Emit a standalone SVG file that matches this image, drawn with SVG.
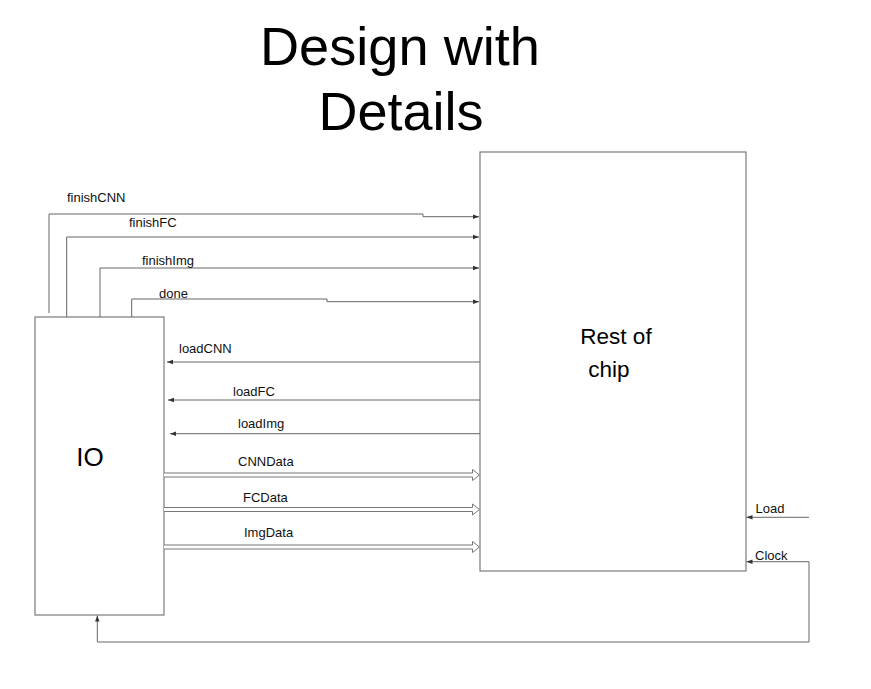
<svg xmlns="http://www.w3.org/2000/svg" width="871" height="689" viewBox="0 0 871 689">
<defs>
<marker id="arr" markerUnits="userSpaceOnUse" markerWidth="6" markerHeight="6" viewBox="0 0 6 6" refX="6" refY="3" orient="auto">
<path d="M0,0.8 L6,3 L0,5.2 Z" fill="#333"/>
</marker>
<style>
.box{fill:#fff;stroke:#7a7a7a;stroke-width:1.2}
.ln{fill:none;stroke:#666;stroke-width:1}
.ba{fill:#fff;stroke:#777;stroke-width:1}
.lbl{font-family:"Liberation Sans",Arial,sans-serif;font-size:13px;fill:#111}
.big{font-family:"Liberation Sans",Arial,sans-serif;fill:#000}
</style>
</defs>
<rect width="871" height="689" fill="#fff"/>
<g id="title">
<text class="big" x="400" y="65" font-size="54" text-anchor="middle" textLength="280" lengthAdjust="spacingAndGlyphs">Design with</text>
<text class="big" x="401" y="130" font-size="54" text-anchor="middle">Details</text>
</g>
<g id="io">
<rect class="box" x="35" y="317" width="129" height="298"/>
<text class="big" x="90" y="466" font-size="26" text-anchor="middle">IO</text>
</g>
<g id="rest">
<rect class="box" x="480" y="152" width="266" height="419"/>
<text class="big" x="616" y="344" font-size="22.5" text-anchor="middle">Rest of</text>
<text class="big" x="609" y="377" font-size="22.5" text-anchor="middle">chip</text>
</g>
<g id="connectors">
<path class="ln" d="M49,313 V214 H423 V216.7 H479" marker-end="url(#arr)"/>
<path class="ln" d="M66.7,317 V237 H479" marker-end="url(#arr)"/>
<path class="ln" d="M100,317 V268 H479" marker-end="url(#arr)"/>
<path class="ln" d="M131.7,317 V299 H327 V301.7 H479" marker-end="url(#arr)"/>
<path class="ln" d="M480,362 H167" marker-end="url(#arr)"/>
<path class="ln" d="M480,400 H168" marker-end="url(#arr)"/>
<path class="ln" d="M480,433.7 H170" marker-end="url(#arr)"/>
<path class="ba" d="M164,473 H472.5 V469.5 L479.5,475 L472.5,480.5 V477 H164"/>
<path class="ba" d="M164,507.5 H472.5 V504 L479.5,509.5 L472.5,515 V511.5 H164"/>
<path class="ba" d="M164,545 H472.5 V541.5 L479.5,547 L472.5,552.5 V549 H164"/>
<path class="ln" d="M809,517.3 H746.5" marker-end="url(#arr)"/>
<path class="ln" d="M809,561.7 H746.5" marker-end="url(#arr)"/>
<path class="ln" d="M809,561.7 V642 H97.3 V615.5" marker-end="url(#arr)"/>
<text class="lbl" x="67" y="202">finishCNN</text>
<text class="lbl" x="129" y="227">finishFC</text>
<text class="lbl" x="142" y="265">finishImg</text>
<text class="lbl" x="159" y="298">done</text>
<text class="lbl" x="179" y="353">loadCNN</text>
<text class="lbl" x="233" y="396">loadFC</text>
<text class="lbl" x="238" y="428">loadImg</text>
<text class="lbl" x="238" y="466">CNNData</text>
<text class="lbl" x="243" y="502">FCData</text>
<text class="lbl" x="244" y="537">ImgData</text>
<text class="lbl" x="755.5" y="513">Load</text>
<text class="lbl" x="755" y="560">Clock</text>
</g>
</svg>
